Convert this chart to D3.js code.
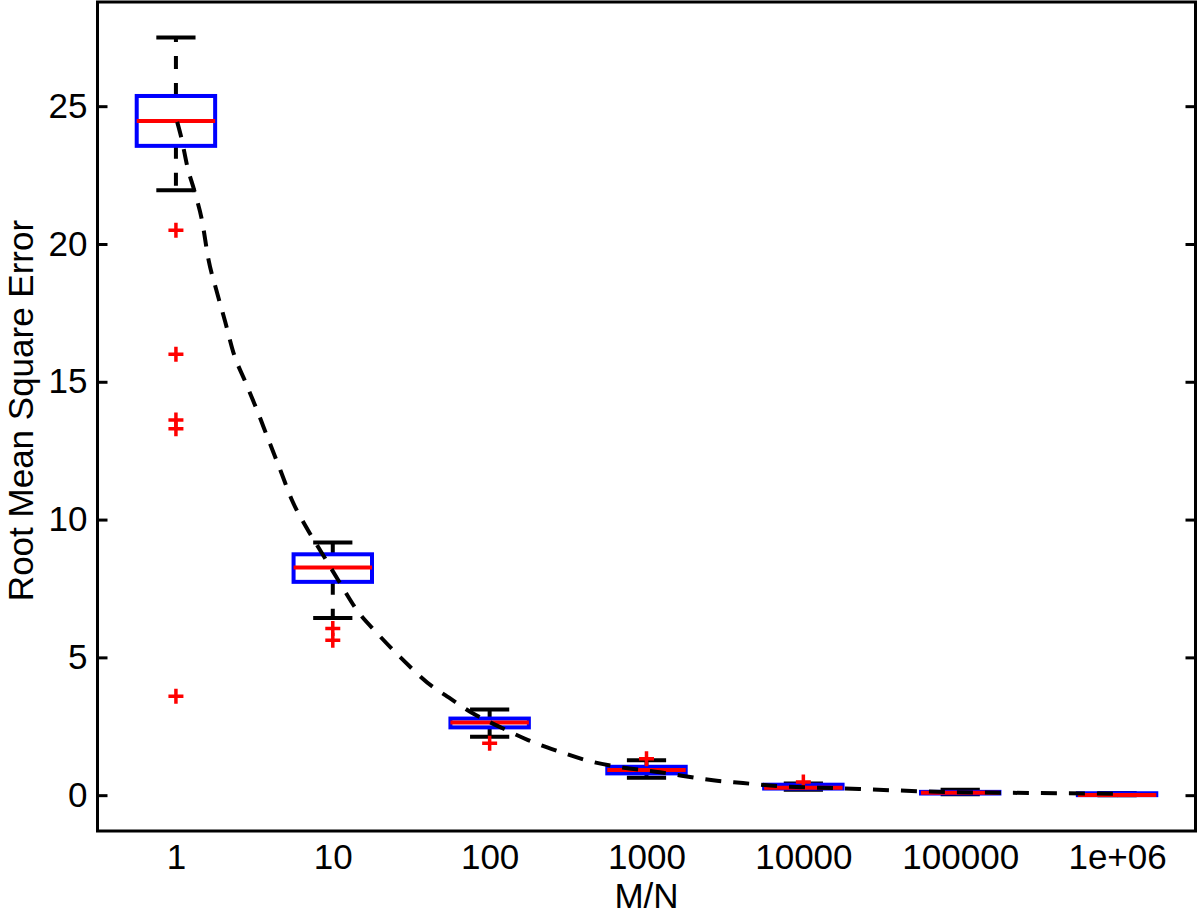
<!DOCTYPE html>
<html>
<head>
<meta charset="utf-8">
<script src="https://cdn.jsdelivr.net/npm/d3@7"></script>
<style>
    body { margin: 0; background: #fff; }
    text { font-family: "Liberation Sans", Arial, Helvetica, sans-serif; }
</style>
</head>
<body>
<svg id="chart_svg" width="1200" height="918"></svg>
<script>
// categories on the x axis (M/N)
const categories = ["1", "10", "100", "1000", "10000", "100000", "1e+06"]

// box statistics, one entry per category
const whisker_low = [21.95, 6.43, 2.12, 0.63, 0.20, 0.03, 0.00]
const q1 = [23.56, 7.74, 2.46, 0.79, 0.24, 0.06, 0.00]
const median = [24.46, 8.26, 2.64, 0.91, 0.27, 0.09, 0.01]
const q3 = [25.37, 8.74, 2.78, 1.03, 0.38, 0.12, 0.07]
const whisker_high = [27.49, 9.17, 3.11, 1.27, 0.42, 0.20, 0.08]

// outliers per category
const outliers = [
    [20.50, 16.00, 13.61, 13.30, 3.59],
    [6.05, 5.62],
    [1.88],
    [1.32],
    [0.48],
    [],
    []
]

// dashed fit curve (x in category index units)
const curve_x = [1.008, 1.033, 1.075, 1.118, 1.167, 1.207, 1.258, 1.315, 1.366, 1.443, 1.517, 1.591,
    1.666, 1.740, 1.831, 1.931, 2.035, 2.154, 2.282, 2.430, 2.640, 2.717, 2.889, 3.067, 3.245, 3.436,
    3.640, 3.831, 4.086, 4.424, 4.615, 4.831, 5.232, 5.551, 5.806, 6.252, 6.647, 7.0]
const curve_y = [24.43, 23.89, 22.75, 21.92, 20.83, 19.45, 18.32, 17.16, 16.07, 14.99, 13.97, 12.88,
    11.79, 10.70, 9.72, 8.78, 7.80, 6.71, 5.88, 5.01, 3.92, 3.63, 2.98, 2.47, 2.00, 1.60,
    1.23, 1.02, 0.83, 0.54, 0.44, 0.33, 0.25, 0.18, 0.13, 0.09, 0.07, 0.05]

const y_ticks = [0, 5, 10, 15, 20, 25]

const config = {
    left: 97.5, right: 1195.5, top: 2, bottom: 831,
    font_size: 35,
    box_half: 0.25,
    cap_half: 0.125,
    line_width: 4,
    plus_size: 7.5
}

function drawChart() {
    let svg = d3.select("#chart_svg")
    svg.selectChildren().remove()

    const x = d3.scaleLinear().domain([0.5, 7.5]).range([config.left, config.right])
    const y = d3.scaleLinear().domain([-1.3, 28.78]).range([config.bottom, config.top])

    // axes: y ticks inward on both sides, x labels only
    svg.append("g")
        .attr("transform", `translate(${config.left},0)`)
        .call(d3.axisLeft(y).tickValues(y_ticks).tickSizeInner(-10).tickSizeOuter(0).tickPadding(10))
        .call(g => g.select(".domain").remove())
        .call(g => g.selectAll("line").attr("stroke", "#000").attr("stroke-width", 3))
        .call(g => g.selectAll("text").attr("font-size", config.font_size).attr("fill", "#000").attr("font-family", null))

    svg.append("g")
        .attr("transform", `translate(${config.right},0)`)
        .call(d3.axisRight(y).tickValues(y_ticks).tickSizeInner(-10).tickSizeOuter(0).tickFormat(""))
        .call(g => g.select(".domain").remove())
        .call(g => g.selectAll("line").attr("stroke", "#000").attr("stroke-width", 3))

    svg.append("g")
        .attr("transform", `translate(0,${config.bottom})`)
        .call(d3.axisBottom(x).tickValues(d3.range(1, categories.length + 1)).tickSize(0).tickPadding(13)
            .tickFormat((d) => categories[d - 1]))
        .call(g => g.select(".domain").remove())
        .call(g => g.selectAll("text").attr("font-size", config.font_size).attr("fill", "#000").attr("font-family", null))

    // frame
    svg.append("rect")
        .attr("x", config.left).attr("y", config.top)
        .attr("width", config.right - config.left).attr("height", config.bottom - config.top)
        .attr("fill", "none").attr("stroke", "#000").attr("stroke-width", 3)

    // axis titles
    svg.append("text")
        .attr("x", (config.left + config.right) / 2).attr("y", 908)
        .attr("text-anchor", "middle").attr("font-size", config.font_size)
        .text("M/N")

    svg.append("text")
        .attr("transform", `translate(33,${(config.top + config.bottom) / 2 - 6}) rotate(-90)`)
        .attr("text-anchor", "middle").attr("font-size", config.font_size)
        .text("Root Mean Square Error")

    // boxes
    categories.forEach((c, i) => {
        let p = i + 1
        let g = svg.append("g").attr("class", "box")

        // dashed whiskers
        g.append("line")
            .attr("x1", x(p)).attr("x2", x(p)).attr("y1", y(q3[i])).attr("y2", y(whisker_high[i]))
            .attr("stroke", "#000").attr("stroke-width", config.line_width).attr("stroke-dasharray", "13,14")
        g.append("line")
            .attr("x1", x(p)).attr("x2", x(p)).attr("y1", y(q1[i])).attr("y2", y(whisker_low[i]))
            .attr("stroke", "#000").attr("stroke-width", config.line_width).attr("stroke-dasharray", "13,14")

        // whisker caps
        ;[whisker_high[i], whisker_low[i]].forEach(v => {
            g.append("line")
                .attr("x1", x(p - config.cap_half)).attr("x2", x(p + config.cap_half))
                .attr("y1", y(v)).attr("y2", y(v))
                .attr("stroke", "#000").attr("stroke-width", config.line_width)
        })

        // box
        g.append("rect")
            .attr("x", x(p - config.box_half)).attr("y", y(q3[i]))
            .attr("width", x(p + config.box_half) - x(p - config.box_half))
            .attr("height", Math.max(y(q1[i]) - y(q3[i]), 0.5))
            .attr("fill", "none").attr("stroke", "#0000ff").attr("stroke-width", config.line_width)

        // median
        g.append("line")
            .attr("x1", x(p - config.box_half)).attr("x2", x(p + config.box_half))
            .attr("y1", y(median[i])).attr("y2", y(median[i]))
            .attr("stroke", "#ff0000").attr("stroke-width", config.line_width)

        // outliers as '+'
        outliers[i].forEach(v => {
            let cx = x(p), cy = y(v), s = config.plus_size
            g.append("path")
                .attr("d", `M${cx - s},${cy}H${cx + s}M${cx},${cy - s}V${cy + s}`)
                .attr("stroke", "#ff0000").attr("stroke-width", 3.5).attr("fill", "none")
        })
    })

    // fit curve on top
    let line = d3.line().x(d => x(d[0])).y(d => y(d[1])).curve(d3.curveMonotoneX)
    svg.append("path")
        .datum(d3.zip(curve_x, curve_y))
        .attr("d", line)
        .attr("fill", "none").attr("stroke", "#000").attr("stroke-width", config.line_width)
        .attr("stroke-dasharray", "16,12")
}

drawChart()
</script>
</body>
</html>
